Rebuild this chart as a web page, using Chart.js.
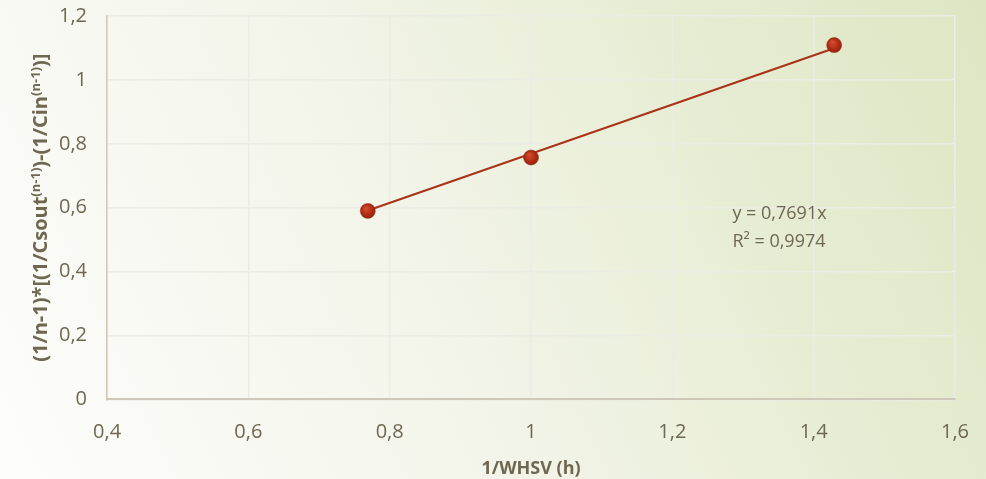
<!DOCTYPE html>
<html>
<head>
<meta charset="utf-8">
<script src="https://cdn.jsdelivr.net/npm/chart.js@4"></script>
<style>
  html, body { margin: 0; padding: 0; }
  body {
    width: 986px; height: 479px; overflow: hidden;
    background: linear-gradient(65deg, #fdfdfb 0%, #f3f5ea 40%, #e6ecd2 75%, #dde6c3 100%);
  }
  #myChart { display: block; }
</style>
</head>
<body>
<canvas id="myChart" width="986" height="479"></canvas>
<script>
const whsvInv = [0.769, 1.0, 1.429];
const rateTerm = [0.59, 0.757, 1.109];
const slope = 0.7691;
const rSquared = 0.9974;
const xTicks = [0.4, 0.6, 0.8, 1.0, 1.2, 1.4, 1.6];
const yTicks = [0, 0.2, 0.4, 0.6, 0.8, 1.0, 1.2];

const textColor = '#6e6752';
const family = '"Open Sans", sans-serif';
const fmt = v => String(+v.toFixed(4)).replace('.', ',');

// trendline through origin, spanning the measured range
const trend = [
  { x: Math.min(...whsvInv), y: slope * Math.min(...whsvInv) },
  { x: Math.max(...whsvInv), y: slope * Math.max(...whsvInv) },
];

// y title with real superscripts: [text, isSup]
const yTitleParts = [
  ['(1/n-1)*[(1/Csout', false],
  ['(n-1)', true],
  [')-(1/Cin', false],
  ['(n-1)', true],
  [')]', false],
];

const yTitle = {
  id: 'yTitle',
  afterDraw(chart) {
    const { ctx, chartArea } = chart;
    const size = 20, supSize = 13;
    const mainFont = `bold ${size}px ${family}`;
    const supFont = `bold ${supSize}px ${family}`;
    ctx.save();
    let total = 0;
    for (const [t, sup] of yTitleParts) {
      ctx.font = sup ? supFont : mainFont;
      total += ctx.measureText(t).width;
    }
    const cy = (chartArea.top + chartArea.bottom) / 2;
    ctx.translate(40, cy);
    ctx.rotate(-Math.PI / 2);
    ctx.fillStyle = textColor;
    ctx.textBaseline = 'alphabetic';
    let x = -total / 2;
    for (const [t, sup] of yTitleParts) {
      ctx.font = sup ? supFont : mainFont;
      ctx.fillText(t, x, sup ? 0 : 7);
      x += ctx.measureText(t).width;
    }
    ctx.restore();
  }
};

const trendLabel = {
  id: 'trendLabel',
  afterDatasetsDraw(chart) {
    const { ctx, scales } = chart;
    const x = scales.x.getPixelForValue(1.285);
    const y = scales.y.getPixelForValue(0.58);
    ctx.save();
    ctx.font = `18px ${family}`;
    ctx.fillStyle = textColor;
    ctx.textBaseline = 'middle';
    ctx.fillText('y = ' + fmt(slope) + 'x', x, y);
    ctx.fillText('R² = ' + fmt(rSquared), x, y + 28);
    ctx.restore();
  }
};

const dotFill = (context) => {
  const el = context.element;
  const c = context.chart.ctx;
  if (!el || el.x === undefined) return '#b32d14';
  const g = c.createRadialGradient(el.x - 2, el.y - 3, 1, el.x, el.y, 8);
  g.addColorStop(0, '#d24a2e');
  g.addColorStop(0.6, '#b02c13');
  g.addColorStop(1, '#8e2210');
  return g;
};

const ctx = document.getElementById('myChart').getContext('2d');
new Chart(ctx, {
  type: 'scatter',
  data: {
    datasets: [
      {
        type: 'line',
        data: trend,
        borderColor: '#a93218',
        borderWidth: 2,
        pointRadius: 0,
        fill: false,
        order: 2,
      },
      {
        data: whsvInv.map((x, i) => ({ x, y: rateTerm[i] })),
        backgroundColor: dotFill,
        borderColor: '#9a2812',
        borderWidth: 0.5,
        pointRadius: 7.5,
        order: 1,
      },
    ],
  },
  options: {
    responsive: false,
    animation: false,
    layout: { padding: { left: 39, right: 31, top: 16, bottom: -1 } },
    plugins: { legend: { display: false }, tooltip: { enabled: false } },
    scales: {
      x: {
        type: 'linear',
        min: 0.4, max: 1.6,
        afterBuildTicks: s => { s.ticks = xTicks.map(v => ({ value: v })); },
        afterFit: s => { s.paddingRight = 0; s.paddingLeft = 0; },
        ticks: {
          callback: v => fmt(v),
          color: textColor,
          font: { family, size: 20 },
          padding: 21,
          maxRotation: 0,
        },
        grid: { color: '#ecece4', lineWidth: 1.5, drawTicks: false },
        border: { color: '#cfc8b8', width: 2 },
        title: {
          display: true,
          text: '1/WHSV (h)',
          color: textColor,
          font: { family, size: 18, weight: 'bold' },
          padding: { top: -7, bottom: 0 },
        },
      },
      y: {
        min: 0, max: 1.2,
        afterBuildTicks: s => { s.ticks = yTicks.map(v => ({ value: v })); },
        afterFit: s => { s.paddingTop = 0; s.paddingBottom = 0; },
        ticks: {
          callback: v => fmt(v),
          color: textColor,
          font: { family, size: 20 },
          padding: 20,
        },
        grid: { color: '#ecece4', lineWidth: 1.5, drawTicks: false },
        border: { color: '#cfc8b8', width: 1.5 },
      },
    },
  },
  plugins: [trendLabel, yTitle],
});
</script>
</body>
</html>
